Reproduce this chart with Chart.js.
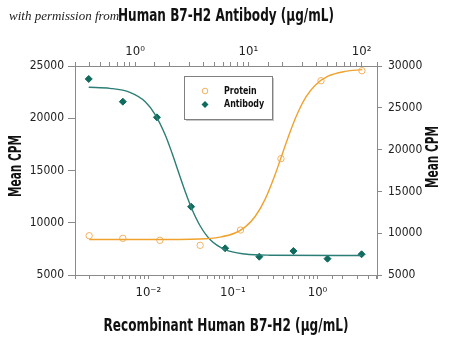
<!DOCTYPE html>
<html>
<head>
<meta charset="utf-8">
<script src="https://cdn.jsdelivr.net/npm/chart.js@4.4.1/dist/chart.umd.min.js"></script>
<style>
  body { margin: 0; background: #fff; }
  #wrap { width: 450px; height: 340px; }
</style>
</head>
<body>
<div id="wrap"><canvas id="chart" width="450" height="340"></canvas></div>
<script>
// values
var proteinConc = [0.002, 0.005, 0.0137, 0.041, 0.123, 0.37, 1.1, 3.35];
var proteinCpm = [8760, 8510, 8320, 7840, 9300, 16130, 23590, 24550];
var antibodyConc = [0.39, 0.78, 1.56, 3.125, 6.25, 12.5, 25, 50, 100];
var antibodyCpm = [28450, 25730, 23860, 13170, 8190, 7190, 7870, 6950, 7480];

// fitted curves
var proteinFitConc = [0.002, 0.0105, 0.0408, 0.0704, 0.106, 0.139, 0.183, 0.24, 0.315, 0.391, 0.473, 0.588, 0.731, 0.934, 1.33, 2.11, 3.39];
var proteinFitCpm = [8400, 8400, 8450, 8630, 9020, 9580, 10600, 12240, 14600, 16780, 18670, 20570, 22040, 23140, 24020, 24480, 24650];
var antibodyFitConc = [0.39, 0.6, 0.9, 1.23, 1.5, 1.84, 2.12, 2.4, 2.76, 3.19, 3.75, 4.59, 6.23, 9.35, 15.5, 100];
var antibodyFitCpm = [27450, 27330, 26850, 25730, 24220, 21810, 19590, 17440, 15050, 12830, 10890, 9250, 8040, 7510, 7370, 7330];

var bottomTicks = [0.01, 0.1, 1];
var bottomTickLabels = ['10\u207B\u00B2', '10\u207B\u00B9', '10\u2070'];
var topTicks = [1, 10, 100];
var topTickLabels = ['10\u2070', '10\u00B9', '10\u00B2'];

var FONT = '"Liberation Sans Narrow", "DejaVu Sans Condensed", "Liberation Sans", sans-serif';
var orangeLine = '#f0a22e';
var orangeMark = '#f4b061';
var tealLine = '#2b7e76';
var tealMark = '#0f6b5d';
var axisColor = '#8a8a8a';

function pts(xs, ys) {
  return xs.map(function(x, i) { return {x: x, y: ys[i]}; });
}

function decadeLabel(v, list, labels) {
  for (var i = 0; i < list.length; i++) {
    if (Math.abs(v - list[i]) / list[i] < 1e-6) return labels[i];
  }
  return '';
}

// the original uses a condensed face; squeeze the text to the same width
function squeezed(ctx, text, x, y, width, angle) {
  var m = ctx.measureText(text).width;
  ctx.save();
  ctx.translate(x, y);
  if (angle) ctx.rotate(angle);
  ctx.scale(width / m, 1);
  ctx.fillText(text, 0, 0);
  ctx.restore();
}

Chart.defaults.font.family = FONT;

var extraText = {
  id: 'extraText',
  afterDraw: function(chart) {
    var ctx = chart.ctx, a = chart.chartArea;
    var cx = (a.left + a.right) / 2;
    ctx.save();
    ctx.fillStyle = '#222';
    ctx.textBaseline = 'middle';
    ctx.textAlign = 'left';
    ctx.font = 'italic 13px "Liberation Serif", "DejaVu Serif", serif';
    ctx.fillText('with permission from', 9, 17);

    ctx.fillStyle = '#111';
    ctx.textAlign = 'center';
    ctx.font = 'bold 17px ' + FONT;
    squeezed(ctx, 'Human B7-H2 Antibody (\u03BCg/mL)', cx, 17, 216);
    squeezed(ctx, 'Recombinant Human B7-H2 (\u03BCg/mL)', cx, 327, 245);
    squeezed(ctx, 'Mean CPM', 17, 166, 62, -Math.PI / 2);
    squeezed(ctx, 'Mean CPM', 434, 157, 62, -Math.PI / 2);
    ctx.restore();
  }
};

var insideLegend = {
  id: 'insideLegend',
  afterDraw: function(chart) {
    var ctx = chart.ctx;
    var x = 184, y = 76, w = 88, h = 43;
    ctx.save();
    ctx.fillStyle = '#c8c8c8';
    ctx.fillRect(x + 2, y + 2, w, h);
    ctx.fillStyle = '#fff';
    ctx.fillRect(x, y, w, h);
    ctx.strokeStyle = '#808080';
    ctx.lineWidth = 1;
    ctx.strokeRect(x + 0.5, y + 0.5, w, h);

    var items = chart.data.datasets.filter(function(d) { return d.inLegend; });
    items.forEach(function(ds, i) {
      var my = y + 15 + i * 13.5;
      var mx = x + 21;
      ctx.beginPath();
      if (ds.pointStyle === 'rectRot') {
        ctx.moveTo(mx, my - 3.5);
        ctx.lineTo(mx + 3.5, my);
        ctx.lineTo(mx, my + 3.5);
        ctx.lineTo(mx - 3.5, my);
        ctx.closePath();
        ctx.fillStyle = ds.backgroundColor;
        ctx.fill();
      } else {
        ctx.arc(mx, my, 2.8, 0, Math.PI * 2);
        ctx.strokeStyle = ds.borderColor;
        ctx.stroke();
      }
      ctx.fillStyle = '#111';
      ctx.font = 'bold 11px ' + FONT;
      ctx.textAlign = 'left';
      ctx.textBaseline = 'middle';
      var tw = ctx.measureText(ds.label).width;
      squeezed(ctx, ds.label, x + 40, my, tw * 0.8);
    });
    ctx.restore();
  }
};

new Chart(document.getElementById('chart'), {
  type: 'scatter',
  data: {
    datasets: [
      {
        label: 'Protein fit',
        data: pts(proteinFitConc, proteinFitCpm),
        xAxisID: 'x', yAxisID: 'y',
        showLine: true, pointRadius: 0,
        borderColor: orangeLine, borderWidth: 1.4,
        cubicInterpolationMode: 'monotone'
      },
      {
        label: 'Antibody fit',
        data: pts(antibodyFitConc, antibodyFitCpm),
        xAxisID: 'x2', yAxisID: 'y2',
        showLine: true, pointRadius: 0,
        borderColor: tealLine, borderWidth: 1.4,
        cubicInterpolationMode: 'monotone'
      },
      {
        label: 'Protein',
        inLegend: true,
        data: pts(proteinConc, proteinCpm),
        xAxisID: 'x', yAxisID: 'y',
        pointStyle: 'circle', pointRadius: 3.2,
        borderColor: orangeMark, backgroundColor: 'rgba(255,255,255,0)',
        borderWidth: 1
      },
      {
        label: 'Antibody',
        inLegend: true,
        data: pts(antibodyConc, antibodyCpm),
        xAxisID: 'x2', yAxisID: 'y2',
        pointStyle: 'rectRot', pointRadius: 3.5,
        borderColor: tealMark, backgroundColor: tealMark,
        borderWidth: 1
      }
    ]
  },
  options: {
    responsive: false,
    animation: false,
    layout: { padding: 0 },
    plugins: {
      legend: { display: false },
      tooltip: { enabled: false }
    },
    scales: {
      x: {
        type: 'logarithmic',
        position: 'bottom',
        min: 0.00136, max: 5.05,
        afterFit: function(s) { s.height = 65; },
        border: { display: true, color: axisColor },
        grid: { drawOnChartArea: false, drawTicks: true, tickLength: 4, color: axisColor },
        ticks: {
          autoSkip: false, maxRotation: 0, padding: 6,
          color: '#222', font: { size: 13 },
          callback: function(v) { return decadeLabel(v, bottomTicks, bottomTickLabels); }
        }
      },
      x2: {
        type: 'logarithmic',
        position: 'top',
        min: 0.295, max: 136.8,
        afterFit: function(s) { s.height = 66; },
        border: { display: true, color: axisColor },
        grid: { drawOnChartArea: false, drawTicks: true, tickLength: 4, color: axisColor },
        ticks: {
          autoSkip: false, maxRotation: 0, padding: 3,
          color: '#222', font: { size: 13 },
          callback: function(v) { return decadeLabel(v, topTicks, topTickLabels); }
        }
      },
      y: {
        type: 'linear',
        position: 'left',
        min: 5000, max: 25000,
        afterFit: function(s) { s.width = 75; },
        border: { display: true, color: axisColor },
        grid: { drawOnChartArea: false, drawTicks: true, tickLength: 7, color: axisColor },
        ticks: {
          stepSize: 5000, padding: 4,
          color: '#222', font: { size: 12 },
          callback: function(v) { return String(v); }
        }
      },
      y2: {
        type: 'linear',
        position: 'right',
        min: 5000, max: 30000,
        afterFit: function(s) { s.width = 73; },
        border: { display: true, color: axisColor },
        grid: { drawOnChartArea: false, drawTicks: true, tickLength: 5, color: axisColor },
        ticks: {
          stepSize: 5000, padding: 6,
          color: '#222', font: { size: 12 },
          callback: function(v) { return String(v); }
        }
      }
    }
  },
  plugins: [extraText, insideLegend]
});
</script>
</body>
</html>
